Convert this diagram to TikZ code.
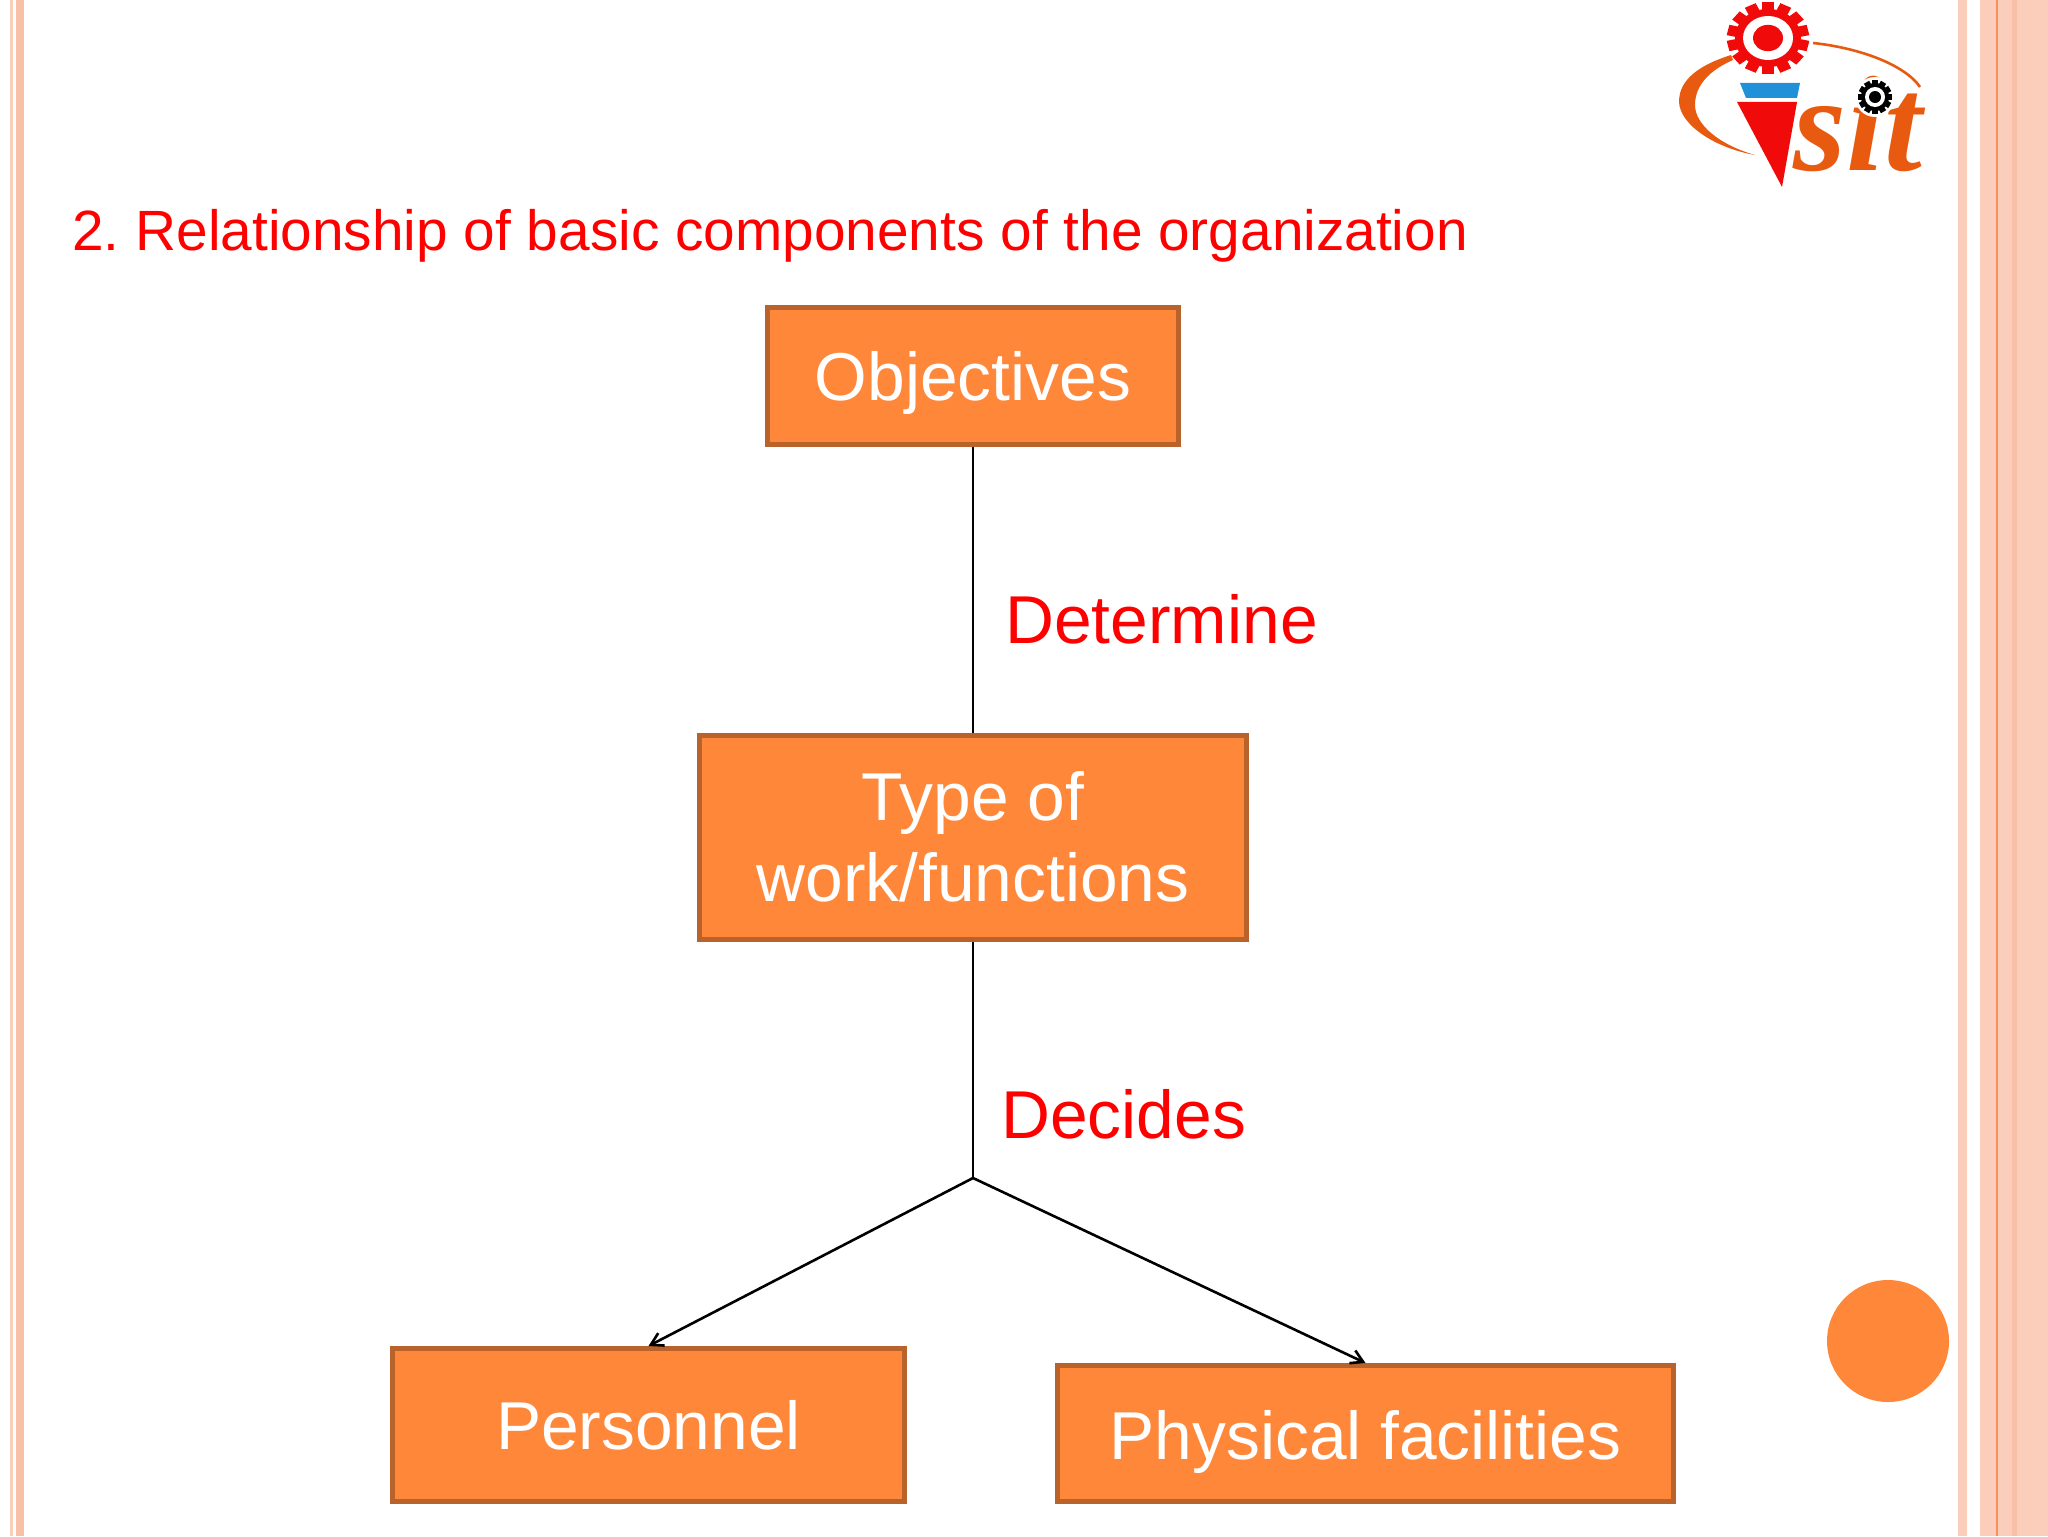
\documentclass[tikz,border=0pt]{standalone}
\usepackage{fontspec}
\setmainfont{Liberation Sans}
\newfontfamily\logofont{Liberation Serif}
\usepackage{tikz}
\usetikzlibrary{arrows.meta}
\frenchspacing
\definecolor{boxfill}{HTML}{FF873A}
\definecolor{boxline}{HTML}{B8622C}
\definecolor{labelred}{HTML}{FE0000}
\definecolor{stripe}{HTML}{FBCDBB}
\definecolor{stripedark}{HTML}{F9C0A8}
\definecolor{stripeline}{HTML}{FA9060}
\definecolor{logored}{HTML}{F00A0A}
\definecolor{logoorange}{HTML}{E85A10}
\definecolor{logoblue}{HTML}{2090D8}
\tikzset{
  orgbox/.style={draw=boxline,fill=boxfill,line width=2.5pt,text=white,inner sep=0pt,
    font=\fontsize{33.85}{40.5}\selectfont},
  onebox/.style={orgbox,text height=24.2pt,text depth=0pt},
  redlabel/.style={anchor=base west,inner sep=0pt,text=labelred,font=\fontsize{33.85}{40.5}\selectfont}
}
\begin{document}
\begin{tikzpicture}[x=0.5pt,y=-0.5pt,>={Straight Barb[length=6pt,width=7pt]}]
\useasboundingbox (0,0) rectangle (2048,1536);
% side stripes
\fill[stripe] (10,0) rectangle (13,1536);
\fill[stripedark] (16,0) rectangle (24,1536);
\fill[stripe] (1958,0) rectangle (1967,1536);
\fill[stripe] (1980,0) rectangle (2048,1536);
\fill[stripedark] (2012,0) rectangle (2017,1536);
\fill[stripeline] (1996,0) rectangle (1998,1536);
% logo
\begin{scope}[shift={(1768,38)},yscale=0.88]
  \foreach \n in {1,...,14} {
    \fill[logored,rotate=\n*360/14] (-6,-41) rectangle (6,-28);
  }
  \fill[logored] (0,0) circle [radius=16.5pt];
  \fill[white] (0,0) circle [radius=12.5pt];
  \fill[logored] (0,0) circle [radius=7.5pt];
\end{scope}
\fill[logoorange] (1731,55) .. controls (1690,68) and (1679,85) .. (1679,102)
  .. controls (1680,125) and (1715,148) .. (1755,155)
  .. controls (1720,145) and (1695,125) .. (1695,105)
  .. controls (1695,85) and (1710,70) .. (1733,60) -- cycle;
\draw[logoorange,line width=1.3pt] (1813,43) .. controls (1860,48) and (1905,65) .. (1920,87);
\fill[logoblue] (1740,83) -- (1800,83) -- (1797,98) -- (1746,98) -- cycle;
\fill[logored] (1737,102) -- (1797,102) -- (1782,187) -- cycle;
\node[anchor=base west,inner sep=0pt,text=logoorange,font=\logofont\bfseries\itshape\fontsize{68}{68}\selectfont] (logotext) at (1793,170) {sit};
\fill[white] (1875,97) circle [radius=10pt];
\foreach \n in {1,...,12} {
  \fill[black,rotate around={\n*30:(1875,97)}] (1872,80) rectangle (1878,90);
}
\fill[black] (1875,97) circle [radius=7pt];
\fill[white] (1875,97) circle [radius=5pt];
\fill[black] (1875,97) circle [radius=3pt];
% title
\node[redlabel,font=\fontsize{28.4}{34}\selectfont] (title) at (72,250) {2. Relationship of basic components of the organization};
% boxes
\node[onebox,minimum width=205.5pt,minimum height=68.5pt] (objectives) at (973,376) {Objectives};
\node[orgbox,align=center,minimum width=273.5pt,minimum height=102pt] (work) at (973,837) {Type of\\work/functions};
\node[onebox,minimum width=256pt,minimum height=76.5pt] (personnel) at (648.5,1425) {Personnel};
\node[onebox,text height=26pt,minimum width=308pt,minimum height=68pt] (physical) at (1365.5,1433.5) {Physical facilities};
\node[redlabel] (determine) at (1005,643) {Determine};
\node[redlabel] (decides) at (1001,1138) {Decides};
\coordinate (fork) at (973,1178);
\node[circle,fill=boxfill,minimum size=61pt,inner sep=0pt] (dot) at (1888,1341) {};
% connectors
\draw[line width=1.3pt] (objectives) -- (work);
\draw[line width=1.3pt] (work) -- (fork);
\draw[->,line width=1.3pt] (fork) -- (personnel.north);
\draw[->,line width=1.3pt] (fork) -- (physical.north);
\end{tikzpicture}
\end{document}
